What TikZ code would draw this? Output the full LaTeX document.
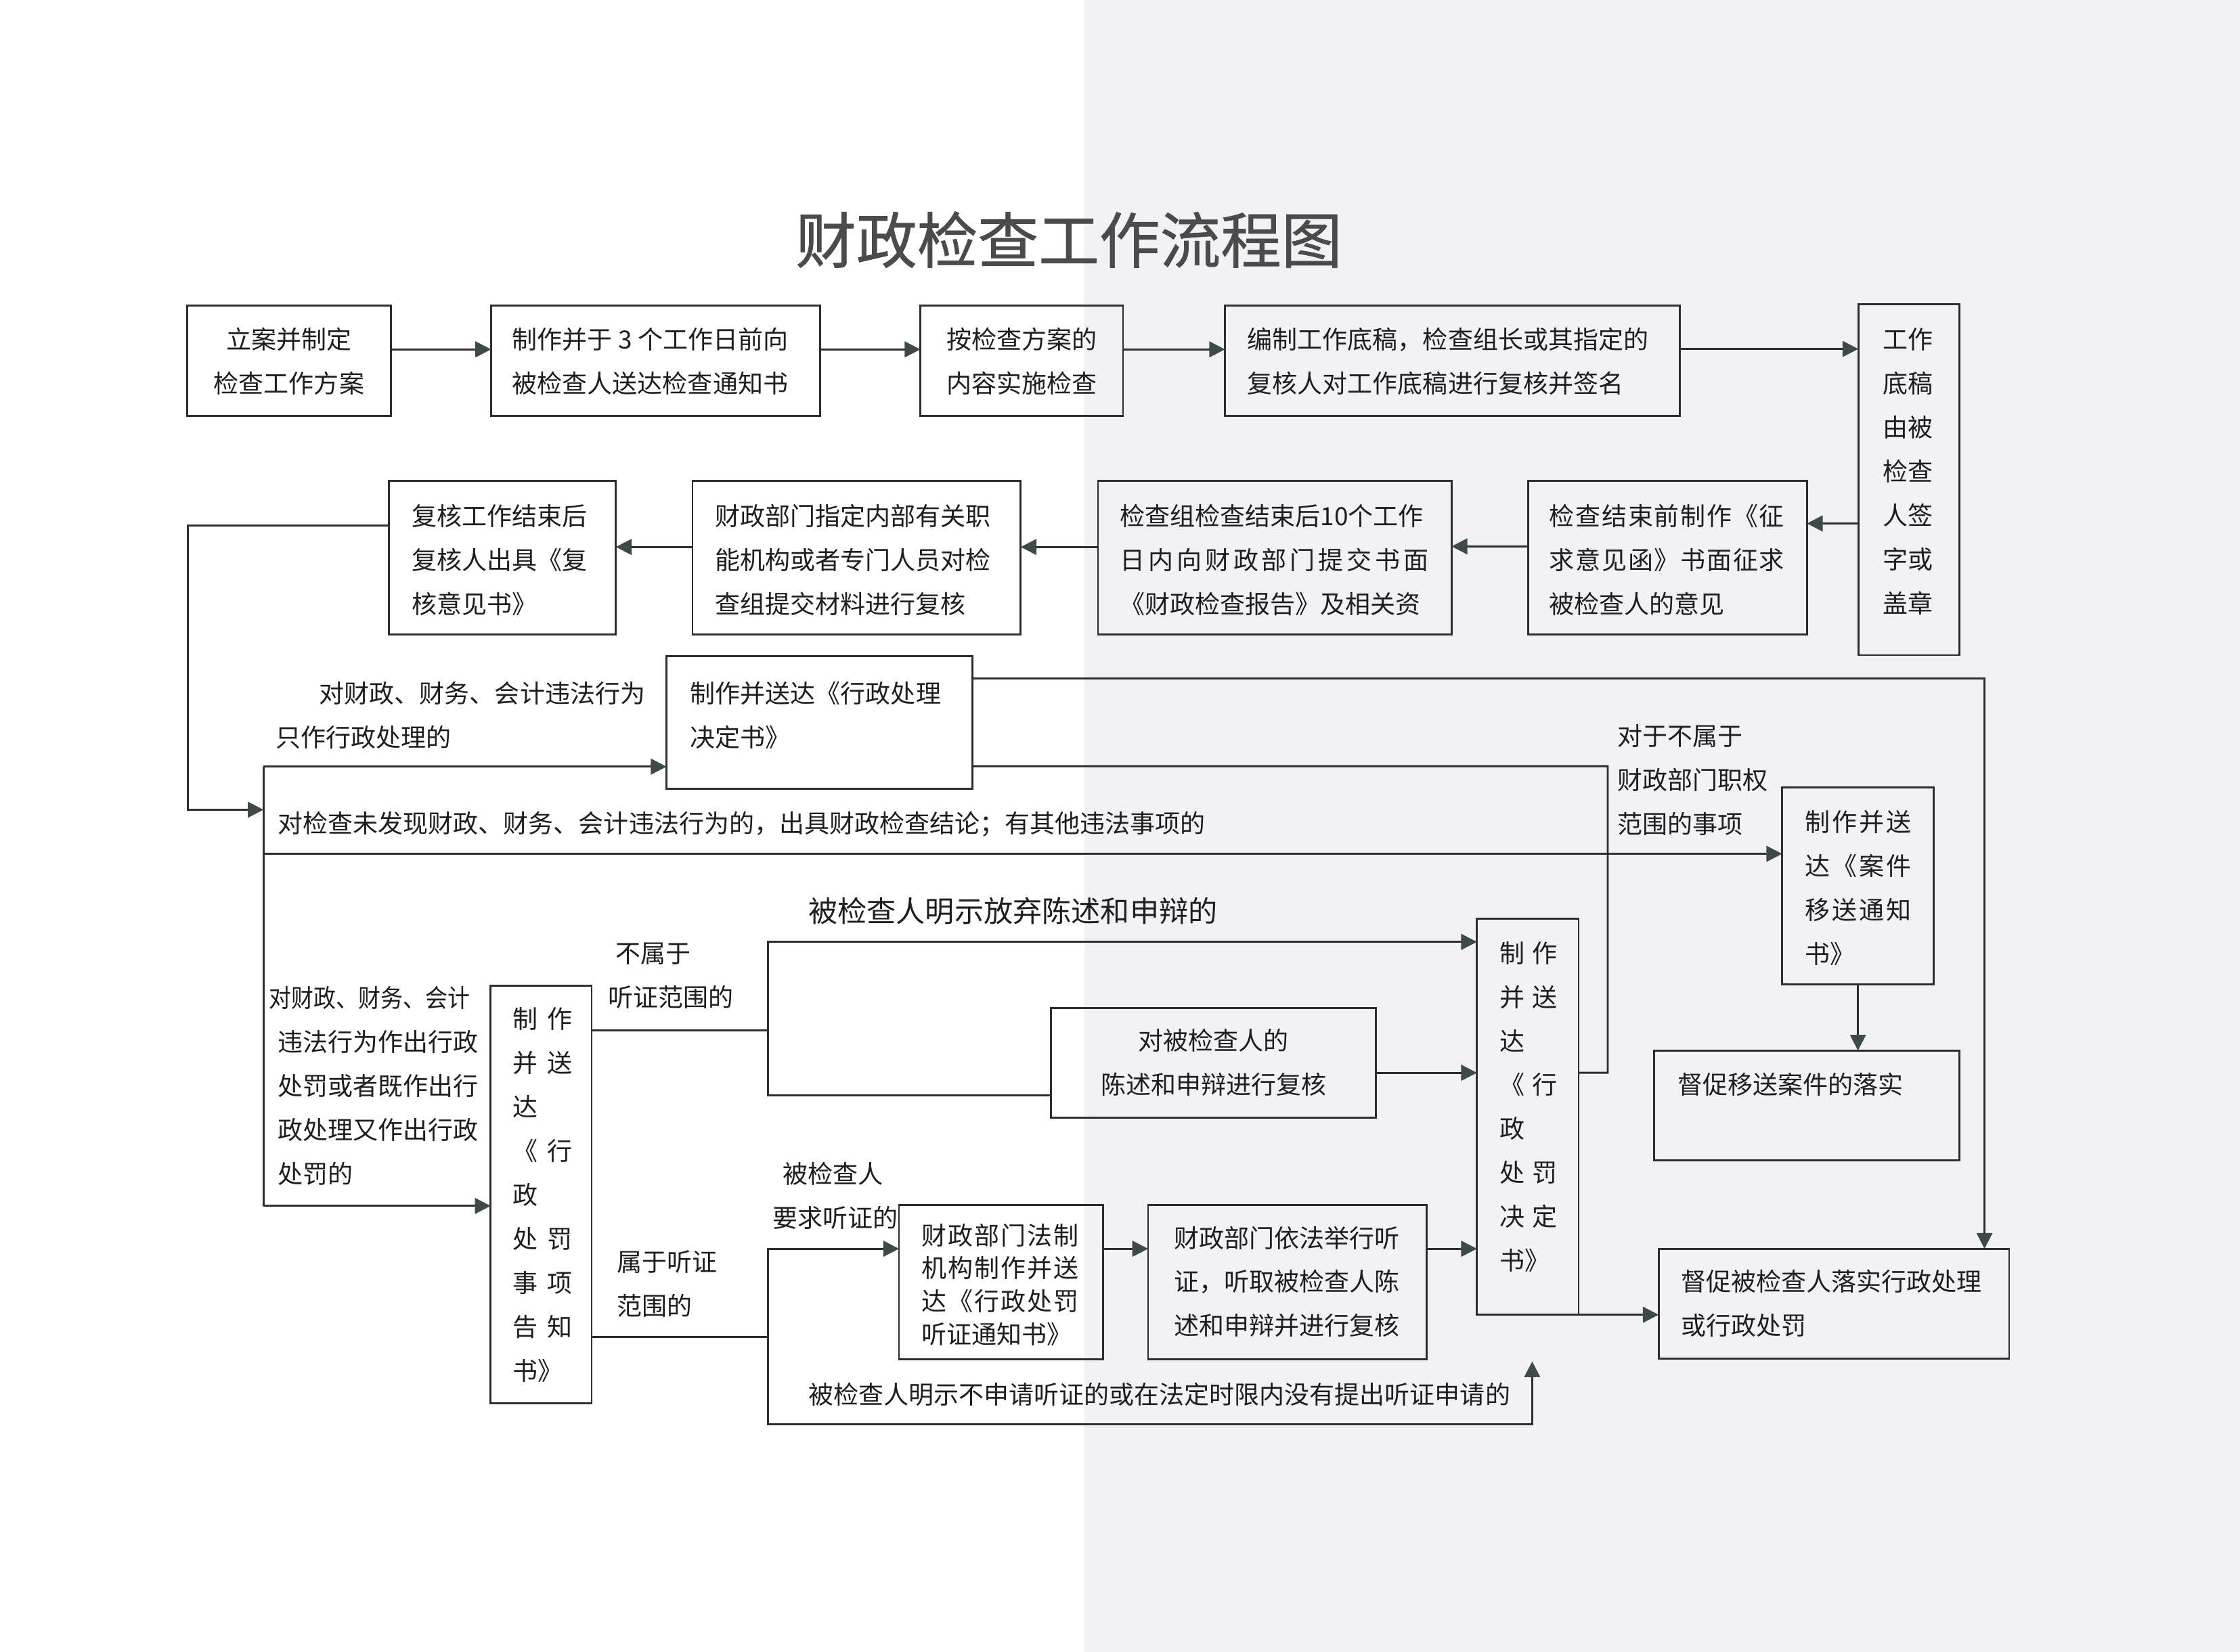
\documentclass[tikz,border=0pt]{standalone}
\usepackage{fontspec}
\usepackage{graphicx}
\newfontfamily\cjk{Noto Sans CJK SC}
\newfontfamily\cjktitle[FakeBold=0.8]{Noto Sans CJK SC}
\usetikzlibrary{arrows.meta}
\definecolor{linec}{RGB}{45,45,45}
\definecolor{arrowc}{RGB}{62,74,70}
\definecolor{txtc}{RGB}{30,30,30}
\definecolor{scan}{RGB}{242,242,246}
\definecolor{titlec}{RGB}{75,75,75}
\makeatletter
\newcommand\jl[2]{\makebox[#1][s]{\jl@a#2\relax}}
\def\jl@a#1{#1\jl@b}
\def\jl@b#1{\ifx\relax#1\else\hfil#1\expandafter\jl@b\fi}
\makeatother
\begin{document}
\begin{tikzpicture}[x=1pt,y=-1pt,
  box/.style={draw=linec,line width=1.35pt,inner sep=0pt,outer sep=0pt},
  txt/.style={inner sep=0pt,outer sep=0pt,text=txtc,font=\cjk\fontsize{17.5}{30.7}\selectfont},
  tl/.style={txt,anchor=west,align=left},
  tc/.style={txt,anchor=center,align=center},
  con/.style={draw=linec,line width=1.35pt,line join=miter},
  arr/.style={con,-{Triangle[length=11pt,width=11pt,color=arrowc]}}]
\useasboundingbox (0,0) rectangle (1564,1153.7);
\fill[white] (0,0) rectangle (757,1153.7);
\fill[scan] (757,0) rectangle (1564,1153.7);

% title
\node[txt,text=titlec,font=\cjktitle\fontsize{42.4}{50}\selectfont] (title) at (746.3,167.4) {财政检查工作流程图};

% boxes
\node[box,minimum width=142pt,minimum height=77.2pt] (B1) at (201.8,251.9) {};
\node[box,minimum width=229.6pt,minimum height=77.2pt] (B2) at (457.7,251.9) {};
\node[box,minimum width=141.5pt,minimum height=77.2pt] (B3) at (713.35,251.9) {};
\node[box,minimum width=317.7pt,minimum height=77.2pt] (B4) at (1014.15,251.9) {};
\node[box,minimum width=70.5pt,minimum height=245pt] (B5) at (1332.75,335) {};
\node[box,minimum width=158.3pt,minimum height=107.2pt] (C1) at (350.85,389.6) {};
\node[box,minimum width=229.2pt,minimum height=107.2pt] (C2) at (598.1,389.6) {};
\node[box,minimum width=246.9pt,minimum height=107.2pt] (C3) at (890.05,389.6) {};
\node[box,minimum width=194.6pt,minimum height=107.2pt] (C4) at (1164.3,389.6) {};
\node[box,minimum width=213.4pt,minimum height=92.5pt] (D1) at (572.1,504.65) {};
\node[box,minimum width=105.9pt,minimum height=137.5pt] (G) at (1297.25,618.85) {};
\node[box,minimum width=213.1pt,minimum height=76.6pt] (H) at (1261.65,772) {};
\node[box,minimum width=244.7pt,minimum height=76.8pt] (I) at (1280.45,910.5) {};
\node[box,minimum width=70.5pt,minimum height=291.7pt] (E1) at (377.85,834.25) {};
\node[box,minimum width=71pt,minimum height=276.7pt] (F) at (1066.7,779.85) {};
\node[box,minimum width=227pt,minimum height=76.5pt] (J) at (847.3,742.15) {};
\node[box,minimum width=142.3pt,minimum height=107.7pt] (K) at (698.85,895.55) {};
\node[box,minimum width=194.4pt,minimum height=107.7pt] (L) at (898.8,895.55) {};

% texts
\node[tc] (tB1) at (201.8,252.5) {立案并制定\\检查工作方案};
\node[tl] (tB2) at (357.7,252.5) {制作并于 3 个工作日前向\\被检查人送达检查通知书};
\node[tc] (tB3) at (713.35,252.5) {按检查方案的\\内容实施检查};
\node[tl] (tB4) at (871,252.5) {编制工作底稿，检查组长或其指定的\\复核人对工作底稿进行复核并签名};
\node[tc] (tB5) at (1332.3,329.3) {工作\\底稿\\由被\\检查\\人签\\字或\\盖章};
\node[tl] (tC1) at (287.7,390.9) {复核工作结束后\\复核人出具《复\\核意见书》};
\node[tl] (tC2) at (499.4,390.9) {财政部门指定内部有关职\\能机构或者专门人员对检\\查组提交材料进行复核};
\node[tl] (tC3) at (782,390.9) {检查组检查结束后10个工作\\\jl{215.5pt}{日内向财政部门提交书面}\\《财政检查报告》及相关资};
\node[tl] (tC4) at (1081.8,390.9) {\jl{164pt}{检查结束前制作《征}\\\jl{164pt}{求意见函》书面征求}\\被检查人的意见};
\node[tl] (tD1) at (482,499.35) {制作并送达《行政处理\\决定书》};
\node[tl] (tL1) at (192.7,499.35) {\hspace*{30.3pt}对财政、财务、会计违法行为\\只作行政处理的};
\node[tl] (tM) at (194.1,575.8) {对检查未发现财政、财务、会计违法行为的，出具财政检查结论；有其他违法事项的};
\node[tl] (tR1) at (1129.5,544.8) {对于不属于\\财政部门职权\\范围的事项};
\node[tl] (tG) at (1260.4,620.3) {\jl{74pt}{制作并送}\\\jl{74pt}{达《案件}\\\jl{74pt}{移送通知}\\书》};
\node[tl] (tH) at (1171.4,757.3) {督促移送案件的落实};
\node[tl] (tI) at (1173.8,910.45) {督促被检查人落实行政处理\\或行政处罚};
\node[tl] (tL2) at (194,758.45) {\hspace*{-6pt}\scalebox{0.89}[1]{对财政、财务、会计}\\违法行为作出行政\\处罚或者既作出行\\政处理又作出行政\\处罚的};
\node[tl] (tE1) at (358.2,834.5) {制\hspace{6.6pt}作\\并\hspace{6.6pt}送\\达\\《\hspace{6.6pt}行\\政\\处\hspace{6.6pt}罚\\事\hspace{6.6pt}项\\告\hspace{6.6pt}知\\书》};
\node[tl] (tNH) at (424.6,681.5) {\hspace*{5.4pt}不属于\\听证范围的};
\node[tl] (tH2) at (430.6,896.75) {属于听证\\范围的};
\node[tl] (tH3) at (539.5,835.05) {\hspace*{6.9pt}被检查人\\要求听证的};
\node[tl,font=\cjk\fontsize{20.4}{30}\selectfont] (tW) at (564.5,636) {被检查人明示放弃陈述和申辩的};
\node[tl] (tN) at (564.5,973.8) {被检查人明示不申请听证的或在法定时限内没有提出听证申请的};
\node[tc] (tJ) at (847.3,742.1) {对被检查人的\\陈述和申辩进行复核};
\node[tl,font=\cjk\fontsize{17.5}{23}\selectfont] (tK) at (643.4,897.15) {\jl{110pt}{财政部门法制}\\\jl{110pt}{机构制作并送}\\\jl{110pt}{达《行政处罚}\\听证通知书》};
\node[tl] (tLL) at (819.8,895.15) {财政部门依法举行听\\证，听取被检查人陈\\述和申辩并进行复核};
\node[tl] (tF) at (1047.2,773.05) {制\hspace{5.1pt}作\\并\hspace{5.1pt}送\\达\\《\hspace{5.1pt}行\\政\\处\hspace{5.1pt}罚\\决\hspace{5.1pt}定\\书》};

% connectors: top row
\draw[arr] ([yshift=7.9pt]B1.east) -- ([yshift=7.9pt]B2.west);
\draw[arr] ([yshift=7.9pt]B2.east) -- ([yshift=7.9pt]B3.west);
\draw[arr] ([yshift=7.9pt]B3.east) -- ([yshift=7.9pt]B4.west);
\coordinate (b4b5) at ([yshift=8.2pt]B4.east);
\draw[arr] (b4b5) -- (b4b5 -| B5.west);
\coordinate (b5c4) at ([yshift=24pt]C4.east);
\draw[arr] (b5c4 -| B5.west) -- (b5c4);
% second row
\draw[arr] ([yshift=8pt]C4.west) -- ([yshift=8pt]C3.east);
\draw[arr] ([yshift=7.6pt]C3.west) -- ([yshift=7.6pt]C2.east);
\draw[arr] ([yshift=7.6pt]C2.west) -- ([yshift=7.6pt]C1.east);
% left trunk
\coordinate (c1out) at ([yshift=22.6pt]C1.west);
\coordinate (lft) at (131,565.5);
\coordinate (vtop) at (184,535.4);
\coordinate (vbot) at (184,842.2);
\draw[arr] (c1out) -| (lft) -- (lft -| vtop);
\draw[con] (vtop) -- (vbot);
\draw[arr] (vtop) -- (vtop -| D1.west);
\draw[arr] (vbot) -- (vbot -| E1.west);
\coordinate (gin) at ([yshift=22.55pt]G.west);
\draw[arr] (vtop |- gin) -- (gin);
% from D1
\coordinate (d1a) at ([yshift=30.75pt]D1.east);
\coordinate (iin) at ([xshift=105.15pt]I.north);
\draw[arr] (d1a) -| (iin);
\coordinate (d1b) at ([yshift=-30.45pt]D1.east);
\coordinate (knee) at (1122.5,535.1);
\coordinate (fo) at ([yshift=30.65pt]F.east);
\draw[con] (d1b) -- (knee) |- (fo);
% G to H
\draw[arr] (G.south) -- (G.south |- H.north);
% E1 upper branch
\coordinate (e1a) at ([yshift=114.85pt]E1.east);
\coordinate (sp1) at (536.4,719.4);
\coordinate (fin1) at ([yshift=122.05pt]F.west);
\coordinate (jin) at ([yshift=-22.85pt]J.west);
\draw[con] (e1a) -- (sp1);
\draw[arr] (sp1) |- (fin1);
\draw[con] (sp1) |- (jin);
\coordinate (jo) at ([yshift=-7.05pt]J.east);
\draw[arr] (jo) -- (jo -| F.west);
% E1 lower branch
\coordinate (e1b) at ([yshift=-99.65pt]E1.east);
\coordinate (sp2) at (536.4,933.9);
\coordinate (kin) at ([yshift=23.45pt]K.west);
\coordinate (bl) at (536.4,994.5);
\coordinate (upend) at (1069.8,950.8);
\draw[con] (e1b) -- (sp2);
\draw[arr] (sp2) |- (kin);
\draw[arr] (sp2) -- (bl) -| (upend);
\draw[arr] (K.east |- kin) -- (L.west |- kin);
\draw[arr] (L.east |- kin) -- (F.west |- kin);
% F to I
\draw[arr] (F.south east) -- (F.south east -| I.west);
\end{tikzpicture}
\end{document}
